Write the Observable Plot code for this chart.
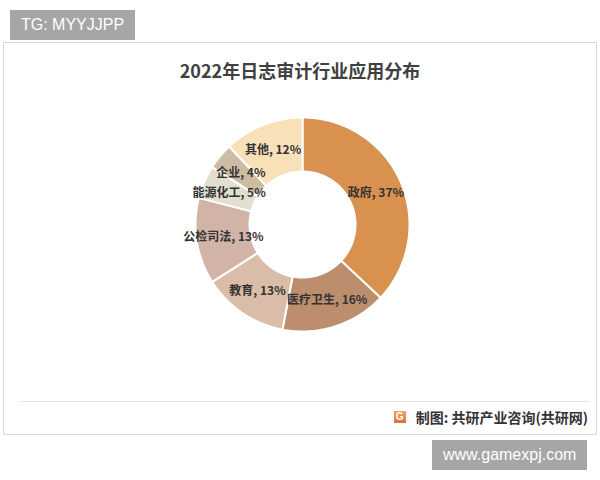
<!DOCTYPE html>
<html><head><meta charset="utf-8">
<script src="https://cdn.jsdelivr.net/npm/d3@7"></script>
<script src="https://cdn.jsdelivr.net/npm/@observablehq/plot@0.6"></script>
<style>
body{margin:0;background:#fff;font-family:"Noto Sans CJK SC","Noto Sans",sans-serif;}
#page{position:relative;width:600px;height:480px;overflow:hidden;}
.tag{position:absolute;background:#a6a6a6;color:#fff;font-family:"Liberation Sans",Arial,sans-serif;font-size:16px;line-height:30px;padding:0 11px;}
#frame{position:absolute;left:3px;top:42px;width:594px;height:393px;border:1px solid #d9d9d9;box-sizing:border-box;}
#title{position:absolute;top:57px;left:0;width:600px;text-align:center;font-size:18px;font-weight:bold;color:#404040;line-height:26px;}
#chart{position:absolute;left:0;top:0;}
#rule{position:absolute;left:20px;top:401px;width:570px;height:1px;background:#e6e6e6;}
#src{position:absolute;right:12px;top:406px;font-size:14px;font-weight:bold;color:#333;line-height:22px;display:flex;align-items:center;}
#icon{display:inline-block;width:12px;height:12px;background:linear-gradient(#f2a06a,#e0703a);color:#fff;font-size:10px;line-height:12px;text-align:center;font-family:"Liberation Sans",sans-serif;font-weight:bold;margin-right:10px;}
</style></head>
<body>
<div id="page">
  <div id="frame"></div>
  <div id="chart"></div>
  <div id="title">2022年日志审计行业应用分布</div>
  <div id="rule"></div>
  <div id="src"><span id="icon">G</span>制图: 共研产业咨询(共研网)</div>
  <div class="tag" style="left:10px;top:10px;">TG: MYYJJPP</div>
  <div class="tag" style="left:432px;top:440px;">www.gamexpj.com</div>
</div>
<script>
const categories = ["政府", "医疗卫生", "教育", "公检司法", "能源化工", "企业", "其他"];
const shares = [37, 16, 13, 13, 5, 4, 12];
const palette = ["#d8914e", "#bc8e6e", "#d9bda9", "#d1b3a7", "#e0dfd0", "#cdbca2", "#f8e0b8"];

const cx = 302, cy = 224, rOut = 107, rIn = 53, rLab = 80;
const rows = categories.map((name, i) => ({name, value: shares[i]}));
const arcs = d3.pie().sort(null).value(d => d.value)(rows);

const poly = [];
for (const a of arcs) {
  const n = Math.max(2, Math.ceil((a.endAngle - a.startAngle) / (Math.PI / 180)));
  for (let k = 0; k <= n; k++) {
    const t = a.startAngle + (a.endAngle - a.startAngle) * k / n;
    poly.push({name: a.data.name, x: rOut * Math.sin(t), y: rOut * Math.cos(t)});
  }
  for (let k = n; k >= 0; k--) {
    const t = a.startAngle + (a.endAngle - a.startAngle) * k / n;
    poly.push({name: a.data.name, x: rIn * Math.sin(t), y: rIn * Math.cos(t)});
  }
}
const labels = arcs.map(a => {
  const m = (a.startAngle + a.endAngle) / 2;
  return {x: rLab * Math.sin(m), y: rLab * Math.cos(m), text: `${a.data.name}, ${a.data.value}%`};
});

const chart = Plot.plot({
  width: 600, height: 480, margin: 0,
  style: {fontFamily: "'Noto Sans CJK SC', sans-serif", background: "transparent"},
  x: {domain: [-cx, 600 - cx], axis: null},
  y: {domain: [cy - 480, cy], axis: null},
  color: {domain: categories, range: palette},
  marks: [
    Plot.line(poly, {x: "x", y: "y", z: "name", fill: "name", stroke: "white", strokeWidth: 2, curve: "linear-closed"}),
    Plot.text(labels, {x: "x", y: "y", text: "text", fontSize: 12, fontWeight: "bold", fill: "#333"})
  ]
});
document.getElementById("chart").appendChild(chart);
</script>
</body></html>
